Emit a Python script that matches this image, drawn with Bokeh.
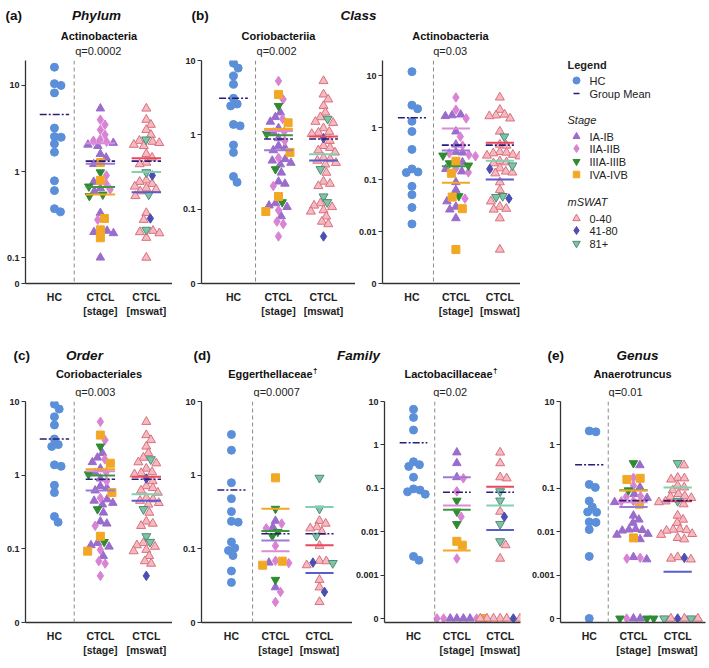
import math
from bokeh.plotting import figure
from bokeh.layouts import column, row
from bokeh.models import FixedTicker, CustomJSTickFormatter, Span, Label, Range1d, ColumnDataSource
from bokeh.core.properties import value
from bokeh.embed import file_html
from bokeh.resources import INLINE

FONT = "Liberation Sans"

# ---------------- data ----------------
group_labels = ["HC", "CTCL\n[stage]", "CTCL\n[mswat]"]
stage_names = ["IA-IB", "IIA-IIB", "IIIA-IIIB", "IVA-IVB"]
msw_names = ["0-40", "41-80", "81+"]

# (a) Phylum Actinobacteria
a_hc = [16.3, 10.0, 10.5, 8.2, 3.2, 2.5, 2.55, 2.1, 1.68, 0.78, 0.6, 0.37, 0.34]
a_val = [5.4, 4.0, 3.5, 3.05, 2.67, 2.35, 2.28, 2.22, 2.15, 2.05, 1.98, 1.6, 1.45, 1.27, 1.22,
         0.98, 0.9, 0.79, 0.76, 0.72, 0.67, 0.64, 0.62, 0.59, 0.54, 0.52, 0.33, 0.285, 0.275,
         0.21, 0.205, 0.198, 0.192, 0.17, 0.1]
a_stage = [1, 2, 2, 2, 2, 2, 2, 2, 1, 1, 1, 1, 1, 4, 1,
           3, 2, 4, 1, 2, 3, 1, 2, 1, 3, 3, 1, 4, 2,
           4, 1, 1, 1, 4, 1]
a_msw = [1, 1, 1, 1, 1, 3, 1, 1, 1, 1, 1, 1, 1, 1, 1,
         3, 2, 1, 1, 1, 1, 1, 1, 1, 3, 1, 1, 2, 1,
         3, 1, 1, 1, 1, 1]
a_hc_mean = 4.6
a_all_mean = 1.32
a_stage_means = [1.23, 2.13, 0.66, 0.54]
a_msw_means = [1.43, 0.575, 0.99]

# (b) Class Coriobacteriia
b1_hc = [9.2, 7.9, 6.2, 4.8, 3.1, 2.45, 2.6, 1.38, 1.32, 0.73, 0.58, 0.275, 0.23]
b1_val = [5.3, 3.5, 3.0, 2.45, 2.0, 1.73, 1.64, 1.5, 1.45, 1.23, 1.1, 1.07, 1.03, 0.9,
          0.83, 0.71, 0.67, 0.62, 0.58, 0.49, 0.47, 0.45, 0.42, 0.40, 0.345, 0.31, 0.235,
          0.22, 0.205, 0.148, 0.124, 0.12, 0.112, 0.107, 0.097, 0.093, 0.08, 0.068, 0.063, 0.043]
b1_stage = [2, 4, 2, 3, 1, 1, 2, 1, 4, 1, 2, 1, 3, 1,
            2, 1, 1, 1, 4, 2, 1, 1, 1, 1, 3, 1, 1,
            1, 2, 4, 3, 1, 1, 1, 2, 4, 1, 2, 2, 2]
b1_msw = [1, 1, 1, 1, 1, 1, 3, 1, 1, 1, 1, 1, 1, 2,
          1, 1, 1, 1, 1, 1, 1, 1, 1, 1, 3, 1, 1,
          1, 1, 3, 3, 1, 1, 1, 1, 1, 1, 1, 1, 2]
b1_hc_mean = 3.1
b1_all_mean = 0.88
b1_stage_means = [0.62, 1.13, 0.99, 1.2]
b1_msw_means = [0.95, 0.45, 0.55]

# (b) Class Actinobacteria
b2_hc = [11.9, 2.7, 2.3, 1.32, 0.84, 0.38, 0.16, 0.14, 0.136, 0.074, 0.051, 0.029, 0.014]
b2_val = [3.8, 2.2, 1.78, 1.72, 1.66, 1.5, 0.84, 0.67, 0.47, 0.45, 0.34, 0.33, 0.32, 0.3,
          0.29, 0.28, 0.225, 0.215, 0.206, 0.186, 0.165, 0.16, 0.143, 0.137, 0.132, 0.089,
          0.063, 0.048, 0.046, 0.043, 0.038, 0.03, 0.0275, 0.0265, 0.018, 0.0045]
b2_stage = [2, 2, 1, 1, 1, 2, 1, 2, 1, 2, 1, 1, 2, 2,
            3, 2, 4, 1, 3, 3, 2, 1, 1, 2, 4, 1,
            1, 3, 4, 2, 1, 1, 4, 1, 1, 4]
b2_msw = [1, 1, 1, 1, 1, 1, 1, 3, 1, 1, 1, 1, 1, 1,
          1, 1, 1, 1, 1, 3, 1, 2, 1, 1, 1, 1,
          1, 3, 3, 2, 1, 1, 1, 1, 1, 1]
b2_hc_mean = 1.54
b2_all_mean = 0.46
b2_stage_means = [0.36, 0.96, 0.18, 0.087]
b2_msw_means = [0.51, 0.10, 0.23]

# (c) Order Coriobacteriales (same samples / values as the class Coriobacteriia)
c_hc = [9.2, 7.9, 6.2, 4.8, 3.1, 2.45, 2.6, 1.38, 1.32, 0.73, 0.58, 0.275, 0.23]
c_val = list(b1_val)
c_stage = list(b1_stage)
c_msw = list(b1_msw)
c_hc_mean = 3.1
c_all_mean = 0.88
c_stage_means = [0.62, 1.13, 0.99, 1.2]
c_msw_means = [0.95, 0.45, 0.55]

# (d) Family Eggerthellaceae
d1_hc = [3.57, 2.18, 0.79, 0.48, 0.32, 0.236, 0.23, 0.124, 0.103, 0.095, 0.081, 0.05, 0.035]
d1_val = [0.92, 0.35, 0.24, 0.22, 0.197, 0.19, 0.17, 0.15, 0.11, 0.069, 0.068, 0.065,
          0.064, 0.06, 0.038, 0.03, 0.026, 0.019]
d1_stage = [4, 3, 1, 2, 1, 2, 3, 3, 2, 2, 4, 1, 2, 4, 3, 1, 2, 2]
d1_msw = [3, 3, 1, 1, 1, 1, 1, 3, 1, 1, 1, 2, 3, 1, 1, 1, 2, 1]
d1_hc_mean = 0.63
d1_all_mean = 0.16
d1_stage_means = [0.13, 0.093, 0.174, 0.35]
d1_msw_means = [0.112, 0.047, 0.37]

# (d) Family Lactobacillaceae
d2_hc = [6.6, 4.3, 2.2, 0.41, 0.35, 0.32, 0.18, 0.097, 0.091, 0.083, 0.073, 0.0027, 0.0022]
d2_val = [0.67, 0.38, 0.18, 0.17, 0.085, 0.052, 0.029, 0.022, 0.015, 0.006, 0.0049, 0.0024,
          0, 0, 0, 0, 0, 0, 0, 0]
d2_stage = [1, 1, 1, 2, 2, 3, 3, 2, 3, 4, 4, 2, 1, 1, 1, 1, 2, 2, 2, 4]
d2_msw = [1, 1, 1, 1, 3, 3, 1, 2, 3, 3, 1, 1, 1, 1, 1, 2, 1, 1, 1, 1]
d2_hc_mean = 1.12
d2_all_mean = 0.081
d2_stage_means = [0.18, 0.04, 0.032, 0.0037]
d2_msw_means = [0.108, 0.011, 0.04]

# (e) Genus Anaerotruncus
e_hc = [2.0, 2.1, 0.123, 0.105, 0.051, 0.037, 0.0285, 0.028, 0.0168, 0.0164, 0.0112, 0.0027, 0]
e_val = [0.38, 0.34, 0.175, 0.17, 0.16, 0.115, 0.105, 0.09, 0.074, 0.066, 0.064, 0.06, 0.051,
         0.05, 0.048, 0.043, 0.0235, 0.019, 0.016, 0.0115, 0.0112, 0.0109, 0.0106, 0.0089,
         0.0085, 0.0072, 0.0067, 0.0026, 0.0025, 0.0024, 0.0023, 0, 0, 0, 0, 0, 0]
e_stage = [3, 1, 2, 4, 4, 2, 1, 3, 1, 2, 2, 1, 2, 2, 1, 4, 1, 1, 1, 1, 1, 1, 1, 1, 1, 4, 1,
           1, 2, 2, 1, 1, 1, 2, 3, 3, 3]
e_msw = [3, 1, 1, 1, 1, 1, 1, 1, 1, 1, 1, 1, 3, 1, 1, 1, 1, 1, 1, 1, 1, 1, 1, 1, 1, 1, 1,
         1, 2, 1, 1, 2, 1, 1, 3, 3, 1]
e_hc_mean = 0.35
e_all_mean = 0.052
e_stage_means = [0.037, 0.048, 0.09, 0.089]
e_msw_means = [0.05, 0.0012, 0.105]

# ---------------- styles ----------------
HC_STYLE = dict(marker="circle", size=8, fill_color="#5B8FD9", line_color="#5B8FD9")
STAGE_STYLE = [
    dict(marker="triangle", size=8.5, fill_color="#9A6CCB", line_color="#9A6CCB"),
    dict(marker="diamond", size=9.5, fill_color="#D983D5", line_color="#D983D5"),
    dict(marker="inverted_triangle", size=8.5, fill_color="#2E8B32", line_color="#2E8B32"),
    dict(marker="square", size=8, fill_color="#F2A824", line_color="#F2A824"),
]
MSW_STYLE = [
    dict(marker="triangle", size=9, fill_color="#F5B9C0", line_color="#D9707E"),
    dict(marker="diamond", size=9.5, fill_color="#4B4FB2", line_color="#4B4FB2"),
    dict(marker="inverted_triangle", size=9, fill_color="#7FC2A8", line_color="#4F8C78"),
]
STAGE_LINE = ["#9D7AD8", "#DB8CD9", "#3C9A3A", "#F2A824"]
MSW_LINE = ["#E8485C", "#5B5BD0", "#7FD1B0"]
NAVY = "#2B1C78"
AXIS_C = "#333333"
HW = 0.32
SWARM_D = 6.8


def swarm(ys, d):
    n = len(ys)
    order = sorted(range(n), key=lambda i: -ys[i])
    placed = []
    xs = [0.0] * n
    for i in order:
        y = ys[i]
        cands = [0.0]
        for (px, py) in placed:
            dy = abs(py - y)
            if dy < d:
                dx = math.sqrt(d * d - dy * dy)
                cands += [px + dx, px - dx]
        cands.sort(key=abs)
        for c in cands:
            if all((c - px) ** 2 + (y - py) ** 2 >= d * d - 1e-6 for px, py in placed):
                xs[i] = c
                placed.append((c, y))
                break
    return xs


def frame_x(lay, xv):
    w, h, left, right, top, bottom = lay["box"]
    fw = w - left - right
    return lay["x0"] + left + (xv - lay["xr"][0]) * fw / (lay["xr"][1] - lay["xr"][0])


def make_panel(lay, hc, val, stg, msw, hc_mean, all_mean, st_means, ms_means):
    w, h, left, right, top, bottom = lay["box"]
    lo, hi, ticks, pad = lay["lo"], lay["hi"], lay["ticks"], lay["pad"]
    xr = lay["xr"]
    fw = w - left - right
    fh = h - top - bottom
    dec = math.log10(hi / lo)
    lo_p = lo * 10 ** (-pad * dec / (fh - pad)) if pad else lo
    p = figure(width=w, height=h, x_range=Range1d(*xr), y_range=Range1d(lo_p, hi),
               y_axis_type="log", output_backend="svg", toolbar_location=None,
               min_border_left=left, min_border_right=right,
               min_border_top=top, min_border_bottom=bottom)
    p.xgrid.visible = False
    p.ygrid.visible = False
    p.outline_line_color = None
    p.background_fill_color = "white"
    p.border_fill_color = "white"

    p.xaxis.ticker = FixedTicker(ticks=[0, 1, 2])
    p.xaxis.major_label_overrides = {i: t for i, t in enumerate(group_labels)}
    p.xaxis.major_tick_line_color = None
    p.xaxis.minor_tick_line_color = None
    p.xaxis.major_label_text_font = FONT
    p.xaxis.major_label_text_font_style = "bold"
    p.xaxis.major_label_text_font_size = "10.5px"
    p.xaxis.major_label_text_color = "#222222"
    p.xaxis.major_label_standoff = 1
    p.xaxis.axis_line_color = AXIS_C
    p.xaxis.axis_line_width = 1.3

    p.yaxis.ticker = FixedTicker(ticks=ticks, minor_ticks=[])
    p.yaxis.formatter = CustomJSTickFormatter(
        args=dict(z=lo),
        code="if (tick <= z * 1.001) { return '0'; } if (tick >= 1) { return tick.toFixed(0); } return tick.toString();")
    p.yaxis.major_tick_out = 4
    p.yaxis.major_tick_in = 0
    p.yaxis.minor_tick_line_color = None
    p.yaxis.major_tick_line_color = AXIS_C
    p.yaxis.major_tick_line_width = 1.2
    p.yaxis.axis_line_color = AXIS_C
    p.yaxis.axis_line_width = 1.3
    p.yaxis.major_label_text_font = FONT
    p.yaxis.major_label_text_font_style = "bold"
    p.yaxis.major_label_text_font_size = "9px"
    p.yaxis.major_label_text_color = "#222222"
    p.yaxis.major_label_standoff = 2

    p.add_layout(Span(location=lay["dash"], dimension="height", line_color="#8a8a8a",
                      line_dash="4 3", line_width=1))

    lg_lo = math.log10(lo_p)
    lg_span = math.log10(hi / lo_p)
    ux = fw / (xr[1] - xr[0])

    def ypx(v):
        return (math.log10(max(v, lo)) - lg_lo) / lg_span * fh

    def place(vals, col):
        offs = swarm([ypx(v) for v in vals], SWARM_D)
        return [col + o / ux for o in offs], [v if v > 0 else lo for v in vals]

    xs, ys = place(hc, 0)
    p.scatter(x=xs, y=ys, **HC_STYLE)

    xs, ys = place(val, 1)
    for k in range(4):
        idx = [i for i, s in enumerate(stg) if s == k + 1]
        if idx:
            src = ColumnDataSource(dict(x=[xs[i] for i in idx], y=[ys[i] for i in idx]))
            p.scatter(x="x", y="y", source=src, **STAGE_STYLE[k])

    xs, ys = place(val, 2)
    for k in range(3):
        idx = [i for i, s in enumerate(msw) if s == k + 1]
        if idx:
            src = ColumnDataSource(dict(x=[xs[i] for i in idx], y=[ys[i] for i in idx]))
            p.scatter(x="x", y="y", source=src, **MSW_STYLE[k])

    for k, m in enumerate(st_means):
        p.segment(x0=[1 - HW], y0=[m], x1=[1 + HW], y1=[m], line_color=STAGE_LINE[k], line_width=2)
    for k, m in enumerate(ms_means):
        p.segment(x0=[2 - HW], y0=[m], x1=[2 + HW], y1=[m], line_color=MSW_LINE[k], line_width=2)
    p.segment(x0=[0 - HW, 1 - HW, 2 - HW], y0=[hc_mean, all_mean, all_mean],
              x1=[0 + HW, 1 + HW, 2 + HW], y1=[hc_mean, all_mean, all_mean],
              line_color=NAVY, line_width=1.6, line_dash="7 2 2 2")
    return p


# ---------------- layout specs (page pixels) ----------------
R1 = (268, 3, 42)   # height, top border, bottom border -> frame 60..283
R2 = (270, 4, 45)   # frame 401..622
lay_a = dict(x0=0, box=(172, R1[0], 25, 0, R1[1], R1[2]), lo=0.05, hi=19.5,
             ticks=[0.05, 0.1, 1, 10], pad=0, xr=(-0.63, 2.57), dash=0.43)
lay_b1 = dict(x0=172, box=(183, R1[0], 29, 0, R1[1], R1[2]), lo=0.01, hi=10,
              ticks=[0.01, 0.1, 1, 10], pad=0, xr=(-0.71, 2.71), dash=0.49)
lay_b2 = dict(x0=355, box=(165, R1[0], 25, 0, R1[1], R1[2]), lo=0.001, hi=19.5,
              ticks=[0.001, 0.01, 0.1, 1, 10], pad=0, xr=(-0.67, 2.47), dash=0.49)
lay_c = dict(x0=0, box=(172, R2[0], 25, 0, R2[1], R2[2]), lo=0.01, hi=10,
             ticks=[0.01, 0.1, 1, 10], pad=0, xr=(-0.63, 2.57), dash=0.43)
lay_d1 = dict(x0=172, box=(180, R2[0], 29, 0, R2[1], R2[2]), lo=0.01, hi=10,
              ticks=[0.01, 0.1, 1, 10], pad=0, xr=(-0.68, 2.75), dash=0.48)
lay_d2 = dict(x0=352, box=(176, R2[0], 28, 8, R2[1], R2[2]), lo=0.0001, hi=10,
              ticks=[0.0001, 0.001, 0.01, 0.1, 1, 10], pad=4, xr=(-0.67, 2.47), dash=0.49)
lay_e = dict(x0=528, box=(181, R2[0], 31, 4, R2[1], R2[2]), lo=0.0001, hi=10,
             ticks=[0.0001, 0.001, 0.01, 0.1, 1, 10], pad=4, xr=(-0.65, 2.63), dash=0.43)

pa = make_panel(lay_a, a_hc, a_val, a_stage, a_msw, a_hc_mean, a_all_mean, a_stage_means, a_msw_means)
pb1 = make_panel(lay_b1, b1_hc, b1_val, b1_stage, b1_msw, b1_hc_mean, b1_all_mean,
                 b1_stage_means, b1_msw_means)
pb2 = make_panel(lay_b2, b2_hc, b2_val, b2_stage, b2_msw, b2_hc_mean, b2_all_mean,
                 b2_stage_means, b2_msw_means)
pc = make_panel(lay_c, c_hc, c_val, c_stage, c_msw, c_hc_mean, c_all_mean, c_stage_means, c_msw_means)
pd1 = make_panel(lay_d1, d1_hc, d1_val, d1_stage, d1_msw, d1_hc_mean, d1_all_mean,
                 d1_stage_means, d1_msw_means)
pd2 = make_panel(lay_d2, d2_hc, d2_val, d2_stage, d2_msw, d2_hc_mean, d2_all_mean,
                 d2_stage_means, d2_msw_means)
pe = make_panel(lay_e, e_hc, e_val, e_stage, e_msw, e_hc_mean, e_all_mean, e_stage_means, e_msw_means)


def blank(w, h, xr, yr, top=0, bottom=0):
    f = figure(width=w, height=h, x_range=Range1d(*xr), y_range=Range1d(*yr),
               output_backend="svg", toolbar_location=None,
               x_axis_location=None, y_axis_location=None,
               min_border_left=0, min_border_right=0, min_border_top=top, min_border_bottom=bottom)
    f.xgrid.visible = False
    f.ygrid.visible = False
    f.outline_line_color = None
    f.background_fill_color = "white"
    f.border_fill_color = "white"
    return f


def put(f, x, y, text, align="center", style="bold", size="11px", color="#111111"):
    f.add_layout(Label(x=x, y=y, text=text, text_align=align, text_baseline="middle",
                       text_font=FONT, text_font_size=size, text_font_style=style,
                       text_color=color))


def panel_titles(f, lay, y_sub, y_q, subtitle, q, dagger_right=None):
    w, h, left, right, top, bottom = lay["box"]
    fw = w - left - right
    if dagger_right is None:
        put(f, lay["x0"] + left + fw / 2, y_sub, subtitle)
    else:
        # subtitle ending at dagger_right, followed by a superscript dagger
        put(f, dagger_right, y_sub, subtitle, align="right")
        put(f, dagger_right + 0.5, y_sub - 3, "\u2020", align="left", size="8px")
    put(f, frame_x(lay, lay["dash"]) + 1, y_q, q, align="left", style="normal", color="#222222")


# header of the top row (page y 0..57)
h1 = blank(709, 57, (0, 709), (57, 0))
put(h1, 5, 15, "(a)", "left", "bold", "13.5px")
put(h1, 96, 15, "Phylum", "center", "bold italic", "13.5px")
put(h1, 191, 15, "(b)", "left", "bold", "13.5px")
put(h1, 358, 15, "Class", "center", "bold italic", "13.5px")
panel_titles(h1, lay_a, 35, 50.5, "Actinobacteria", "q=0.0002")
panel_titles(h1, lay_b1, 35, 50.5, "Coriobacteriia", "q=0.002")
panel_titles(h1, lay_b2, 35, 50.5, "Actinobacteria", "q=0.03")

# header of the bottom row (page y 325..397)
h2 = blank(709, 72, (0, 709), (397, 325))
put(h2, 13, 355, "(c)", "left", "bold", "13.5px")
put(h2, 84, 355, "Order", "center", "bold italic", "13.5px")
put(h2, 193, 355, "(d)", "left", "bold", "13.5px")
put(h2, 358, 355, "Family", "center", "bold italic", "13.5px")
put(h2, 547, 355, "(e)", "left", "bold", "13.5px")
put(h2, 637, 355, "Genus", "center", "bold italic", "13.5px")
panel_titles(h2, lay_c, 373, 391, "Coriobacteriales", "q=0.003")
panel_titles(h2, lay_d1, 373, 391, "Eggerthellaceae", "q=0.0007", dagger_right=312)
panel_titles(h2, lay_d2, 373, 391, "Lactobacillaceae", "q=0.02", dagger_right=492)
panel_titles(h2, lay_e, 373, 391, "Anaerotruncus", "q=0.01")

# legend panel (data coordinates = page pixels; frame spans page y 60..283)
lg = blank(189, R1[0], (520, 709), (283, 60), top=R1[1], bottom=R1[2])
MX, TX, HX = 576, 589, 567


def leg_text(x, y, t, style="normal"):
    lg.text(x=[x], y=[y], text=[t], text_align="left", text_baseline="middle",
            text_font=value(FONT), text_font_size="11px", text_font_style=style,
            text_color="#222222")


leg_text(HX, 64, "Legend", "bold")
lg.scatter(x=[MX], y=[80], marker="circle", size=7, fill_color=HC_STYLE["fill_color"],
           line_color=HC_STYLE["line_color"])
leg_text(TX, 80, "HC")
lg.segment(x0=[MX - 3], y0=[93], x1=[MX + 3], y1=[93], line_color=NAVY, line_width=1.6)
leg_text(TX, 93, "Group Mean")
leg_text(HX, 119, "Stage", "italic")
for k, yy in enumerate([136, 148, 161, 174]):
    st = dict(STAGE_STYLE[k])
    st["size"] = st["size"] - 1.5
    lg.scatter(x=[MX], y=[yy], **st)
    leg_text(TX, yy, stage_names[k])
leg_text(HX, 201, "mSWAT", "italic")
for k, yy in enumerate([218, 230, 243]):
    st = dict(MSW_STYLE[k])
    st["size"] = st["size"] - 1.5
    lg.scatter(x=[MX], y=[yy], **st)
    leg_text(TX, yy, msw_names[k])

layout = column(h1, row(pa, pb1, pb2, lg), h2, row(pc, pd1, pd2, pe))

with open("out.html", "w") as fh_out:
    fh_out.write(file_html(layout, INLINE))
